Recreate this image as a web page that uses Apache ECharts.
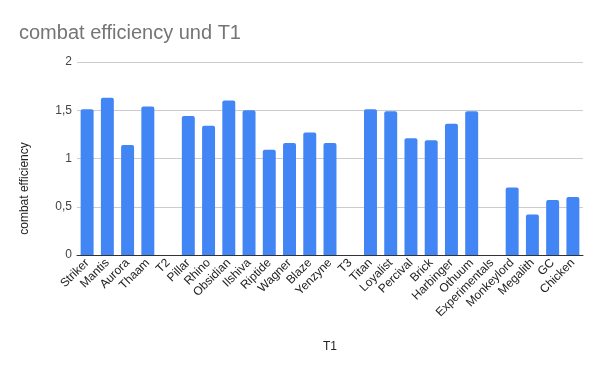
<!DOCTYPE html>
<html><head><meta charset="utf-8">
<script src="https://cdn.jsdelivr.net/npm/echarts@6/dist/echarts.min.js"></script>
<style>html,body{margin:0;padding:0;background:#fff}#c{width:602px;height:372px}</style>
</head><body><div id="c"></div>
<script>
const categories = ["Striker","Mantis","Aurora","Thaam","T2","Pillar","Rhino","Obsidian","Ilshiva","Riptide","Wagner","Blaze","Yenzyne","T3","Titan","Loyalist","Percival","Brick","Harbinger","Othuum","Experimentals","Monkeylord","Megalith","GC","Chicken"];
const efficiency = [1.51,1.63,1.14,1.54,0,1.44,1.34,1.60,1.50,1.09,1.16,1.27,1.16,0,1.51,1.49,1.21,1.19,1.36,1.49,0,0.70,0.42,0.57,0.60];
const yTicks = [0,0.5,1,1.5,2];

const chart = echarts.init(document.getElementById('c'), null, {renderer:'canvas'});
chart.setOption({
  animation:false,
  textStyle:{fontFamily:'Liberation Sans, Arial, sans-serif'},
  title:{text:'combat efficiency und T1',left:14,top:18,textStyle:{fontSize:20,fontWeight:'normal',color:'#757575',fontFamily:'Liberation Sans, Arial, sans-serif'}},
  grid:{left:77,right:19,top:62,bottom:117,containLabel:false},
  xAxis:{type:'category',data:categories,name:'T1',nameLocation:'middle',nameGap:86,
    nameTextStyle:{fontSize:12,color:'#222'},
    axisLine:{lineStyle:{color:'#333',width:1}},axisTick:{show:false},
    axisLabel:{rotate:45,interval:0,fontSize:12,color:'#222',margin:6}},
  yAxis:{type:'value',min:yTicks[0],max:yTicks[yTicks.length-1],interval:0.5,
    name:'combat efficiency',nameLocation:'middle',nameGap:46,nameRotate:90,
    nameTextStyle:{fontSize:12,color:'#222',padding:[0,60,0,0]},
    axisLine:{show:false},axisTick:{show:false},
    splitLine:{lineStyle:{color:'#cccccc'}},
    axisLabel:{fontSize:12,color:'#444',margin:5,formatter:v=>String(v).replace('.',',')}},
  series:[{type:'bar',data:efficiency,barWidth:'64%',itemStyle:{color:'#4285f4',borderRadius:[2,2,0,0]}}]
});
</script></body></html>
